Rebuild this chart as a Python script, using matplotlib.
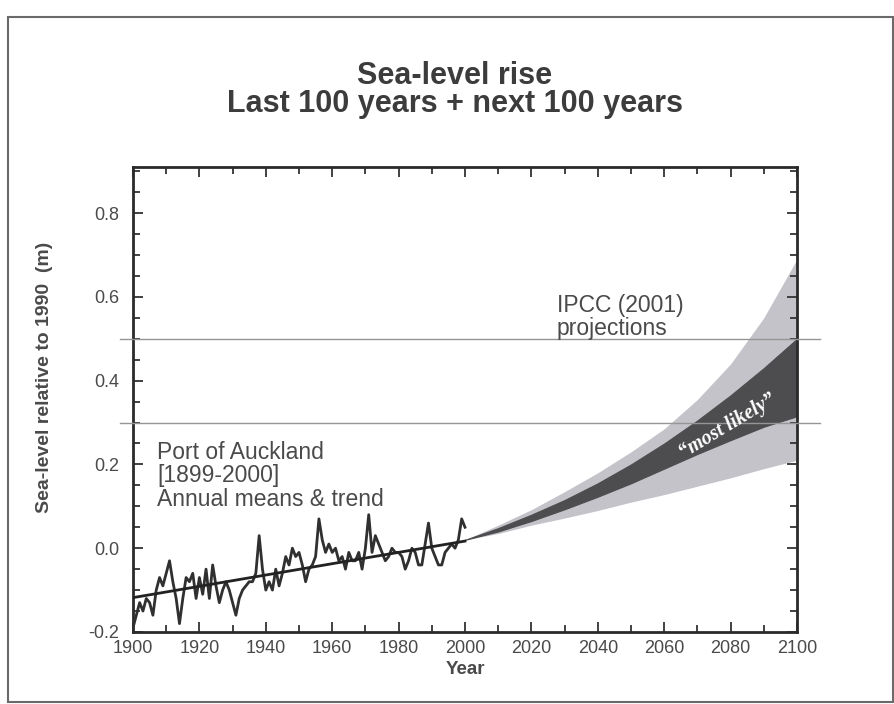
import matplotlib.pyplot as plt
import numpy as np
from matplotlib.patches import Rectangle
from matplotlib.ticker import MultipleLocator

# Port of Auckland annual mean sea level, 1900-2000 (m, relative to 1990)
years = list(range(1900, 2001))
annual_means = [
    -0.19, -0.16, -0.13, -0.15, -0.12, -0.13, -0.16, -0.10, -0.07, -0.09,
    -0.06, -0.03, -0.08, -0.12, -0.18, -0.12, -0.07, -0.08, -0.06, -0.12,
    -0.07, -0.11, -0.05, -0.12, -0.04, -0.09, -0.13, -0.10, -0.08, -0.10,
    -0.13, -0.16, -0.12, -0.10, -0.09, -0.08, -0.08, -0.06, 0.03, -0.05,
    -0.10, -0.08, -0.10, -0.05, -0.09, -0.06, -0.02, -0.04, 0.00, -0.02,
    -0.01, -0.04, -0.08, -0.05, -0.04, -0.02, 0.07, 0.02, -0.01, 0.01,
    -0.01, 0.00, -0.03, -0.02, -0.05, -0.01, -0.03, -0.03, -0.01, -0.05,
    0.00, 0.08, -0.01, 0.03, 0.01, -0.01, -0.03, -0.02, 0.00, -0.01,
    -0.01, -0.02, -0.05, -0.03, 0.00, -0.01, -0.04, -0.04, 0.01, 0.06,
    0.00, -0.02, -0.04, -0.04, -0.01, 0.00, 0.01, 0.00, 0.02, 0.07,
    0.05,
]

# linear trend through the record
trend_years = [1900, 2000]
trend_values = [-0.118, 0.017]

# IPCC (2001) projections
proj_years = [2000, 2010, 2020, 2030, 2040, 2050, 2060, 2070, 2080, 2090, 2100]
outer_upper = [0.02, 0.055, 0.092, 0.135, 0.18, 0.23, 0.285, 0.355, 0.44, 0.55, 0.69]
outer_lower = [0.02, 0.035, 0.055, 0.072, 0.09, 0.11, 0.128, 0.148, 0.168, 0.19, 0.21]
likely_upper = [0.02, 0.048, 0.08, 0.115, 0.155, 0.20, 0.25, 0.305, 0.365, 0.43, 0.50]
likely_lower = [0.02, 0.040, 0.065, 0.093, 0.123, 0.155, 0.19, 0.225, 0.258, 0.29, 0.315]

# reference levels across the chart
ref_levels = [0.5, 0.3]

plt.rcParams["font.family"] = ["Liberation Sans", "DejaVu Sans"]
text_col = "#4a4a4a"

fig = plt.figure(figsize=(8.95, 7.04), dpi=100)
ax = fig.add_axes([0.1486, 0.1023, 0.7419, 0.6605])

ax.fill_between(proj_years, outer_lower, outer_upper, color="#c3c3c9", lw=0, zorder=1)
ax.fill_between(proj_years, likely_lower, likely_upper, color="#4d4d4f",
                lw=0.8, edgecolor="#4d4d4f", zorder=2)

for lev in ref_levels:
    ax.plot([1896, 2107], [lev, lev], color="#959595", lw=1.0, clip_on=False, zorder=3)

ax.plot(years, annual_means, color="#303030", lw=2.0, zorder=4)
ax.plot(trend_years, trend_values, color="#222222", lw=2.0, zorder=5)

ax.set_xlim(1900, 2100)
ax.set_ylim(-0.2, 0.91)
ax.xaxis.set_major_locator(MultipleLocator(20))
ax.xaxis.set_minor_locator(MultipleLocator(10))
ax.yaxis.set_major_locator(MultipleLocator(0.2))
ax.yaxis.set_minor_locator(MultipleLocator(0.05))
ax.yaxis.set_major_formatter(plt.FuncFormatter(lambda v, p: f"{v:.1f}"))
ax.tick_params(which="both", direction="in", top=True, right=True,
               color="#333333", width=1.3)
ax.tick_params(which="major", length=7, labelsize=13, labelcolor=text_col)
ax.tick_params(axis="x", which="major", pad=6)
ax.tick_params(axis="y", which="major", pad=10)
ax.tick_params(which="minor", length=5)
for sp in ax.spines.values():
    sp.set_linewidth(2.0)
    sp.set_color("#2a2a2a")

ax.text(1907.2, 0.173, "Port of Auckland\n[1899-2000]\nAnnual means & trend",
        fontsize=16.5, color=text_col, va="center", ha="left", linespacing=1.02)
ax.text(2027.7, 0.553, "IPCC (2001)\nprojections", fontsize=16.5, color=text_col,
        va="center", ha="left", linespacing=1.0)
ax.text(2079, 0.29, "\u201cmost likely\u201d", fontsize=14.5, color="white",
        family=["Liberation Serif", "DejaVu Serif"], style="italic", weight="bold",
        rotation=31, ha="center", va="center", zorder=6)

fig.text(455 / 895, 1 - 76 / 704, "Sea-level rise", ha="center", va="center",
         fontsize=22, weight="bold", color="#3c3c3c")
fig.text(455 / 895, 1 - 104 / 704, "Last 100 years + next 100 years", ha="center",
         va="center", fontsize=22, weight="bold", color="#3c3c3c")
fig.text(45 / 895, 1 - 377 / 704, "Sea-level relative to 1990  (m)", rotation=90,
         ha="center", va="center", fontsize=14, weight="bold", color=text_col)
fig.text(465 / 895, 1 - 670 / 704, "Year", ha="center", va="center",
         fontsize=13.5, weight="bold", color=text_col)

# outer frame
fig.patches.append(Rectangle((8 / 895, 1 - 702 / 704), 885 / 895, 685 / 704,
                             transform=fig.transFigure, fill=False,
                             edgecolor="#6a6a6a", lw=1.5))

fig.savefig("out.png", dpi=100)
